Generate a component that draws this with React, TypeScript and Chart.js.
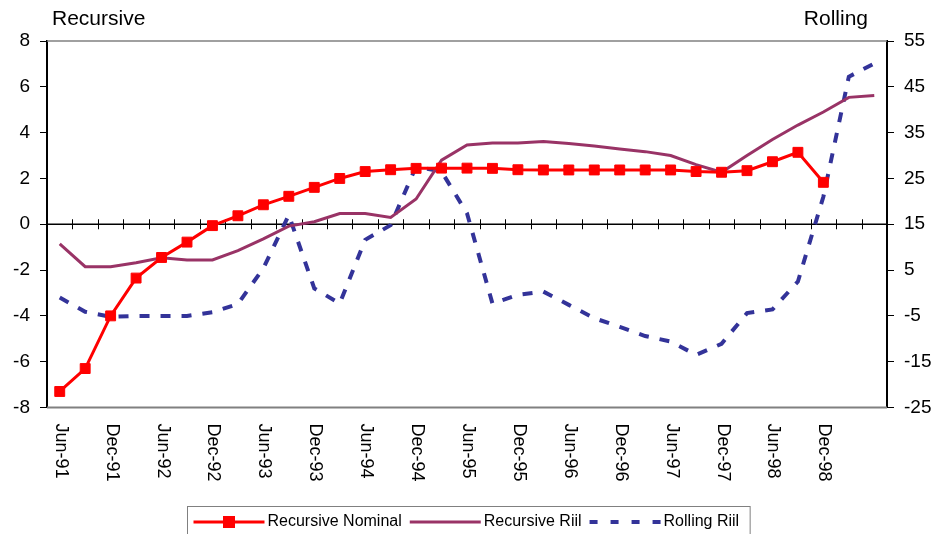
import React, { useEffect, useRef } from 'react';
import { Chart, registerables } from 'chart.js';

Chart.register(...registerables);

const categories = [
  'Jun-91', 'Sep-91', 'Dec-91', 'Mar-92', 'Jun-92', 'Sep-92', 'Dec-92', 'Mar-93',
  'Jun-93', 'Sep-93', 'Dec-93', 'Mar-94', 'Jun-94', 'Sep-94', 'Dec-94', 'Mar-95',
  'Jun-95', 'Sep-95', 'Dec-95', 'Mar-96', 'Jun-96', 'Sep-96', 'Dec-96', 'Mar-97',
  'Jun-97', 'Sep-97', 'Dec-97', 'Mar-98', 'Jun-98', 'Sep-98', 'Dec-98', 'Mar-99',
  'Jun-99',
];

const tickLabels = [
  'Jun-91', 'Dec-91', 'Jun-92', 'Dec-92', 'Jun-93', 'Dec-93', 'Jun-94', 'Dec-94',
  'Jun-95', 'Dec-95', 'Jun-96', 'Dec-96', 'Jun-97', 'Dec-97', 'Jun-98', 'Dec-98',
];

const recursiveNominal = [
  -7.3, -6.3, -4.0, -2.35, -1.45, -0.78, -0.06, 0.37, 0.85, 1.22, 1.61, 2.0, 2.3,
  2.38, 2.44, 2.45, 2.45, 2.44, 2.38, 2.37, 2.37, 2.37, 2.37, 2.37, 2.37, 2.3,
  2.27, 2.34, 2.73, 3.14, 1.83, null, null,
];

const recursiveRiil = [
  -0.86, -1.85, -1.85, -1.68, -1.46, -1.56, -1.56, -1.15, -0.64, -0.08, 0.11,
  0.47, 0.47, 0.3, 1.1, 2.8, 3.46, 3.55, 3.55, 3.61, 3.53, 3.42, 3.29, 3.17, 3.0,
  2.6, 2.27, 3.0, 3.7, 4.33, 4.9, 5.54, 5.62,
];

const rollingRiil = [
  -1.0, -4.1, -5.2, -5.0, -5.0, -5.0, -4.2, -2.4, 5.4, 17.0, 1.0, -2.3, 11.6,
  14.8, 27.6, 26.5, 17.4, -2.3, -0.4, 0.3, -2.6, -5.5, -7.4, -9.4, -10.6, -13.5,
  -11.1, -4.4, -3.6, 2.5, 21.0, 47.2, 50.1,
];

const leftTitle = 'Recursive';
const rightTitle = 'Rolling';
const seriesNames = ['Recursive Nominal', 'Recursive Riil', 'Rolling Riil'];

const RED = '#FF0000';
const PURPLE = '#993366';
const BLUE = '#333399';
const FONT = '"Liberation Sans", Arial, sans-serif';

const customPlugin = {
  id: 'customDecor',
  beforeDatasetsDraw(chart: any) {
    const { ctx, chartArea: ca, scales } = chart;
    const x = scales.x;
    const yL = scales.yL;
    ctx.save();
    ctx.strokeStyle = '#808080';
    ctx.lineWidth = 1.5;
    ctx.beginPath();
    ctx.moveTo(ca.left, ca.top);
    ctx.lineTo(ca.right, ca.top);
    ctx.stroke();
    ctx.lineWidth = 2;
    ctx.beginPath();
    ctx.moveTo(ca.left, ca.bottom);
    ctx.lineTo(ca.right, ca.bottom);
    ctx.stroke();
    const y0 = yL.getPixelForValue(0);
    ctx.strokeStyle = '#000';
    ctx.lineWidth = 1.5;
    ctx.beginPath();
    ctx.moveTo(ca.left, y0);
    ctx.lineTo(ca.right, y0);
    ctx.stroke();
    const half = (x.getPixelForValue(1) - x.getPixelForValue(0)) / 2;
    ctx.lineWidth = 1;
    for (let i = 1; i < categories.length; i++) {
      const px = Math.round(x.getPixelForValue(i) - half) + 0.5;
      ctx.beginPath();
      ctx.moveTo(px, y0 - 5);
      ctx.lineTo(px, y0 + 5);
      ctx.stroke();
    }
    ctx.restore();
  },
  afterDraw(chart: any) {
    const { ctx, chartArea: ca, scales, width } = chart;
    const x = scales.x;
    ctx.save();
    ctx.fillStyle = '#000';
    ctx.font = `21px ${FONT}`;
    ctx.textBaseline = 'alphabetic';
    ctx.textAlign = 'left';
    ctx.fillText(leftTitle, ca.left + 5, 25);
    ctx.textAlign = 'right';
    ctx.fillText(rightTitle, ca.right - 19, 25);

    ctx.font = `18px ${FONT}`;
    ctx.textAlign = 'left';
    ctx.textBaseline = 'middle';
    categories.forEach((c, i) => {
      if (!tickLabels.includes(c)) return;
      const px = x.getPixelForValue(i);
      ctx.save();
      ctx.translate(px + 1, ca.bottom + 16);
      ctx.rotate(Math.PI / 2);
      ctx.fillText(c, 0, 0);
      ctx.restore();
    });

    ctx.font = `16px ${FONT}`;
    const sample = 71;
    const gapText = 3;
    const gapItem = 8;
    const padL = 6;
    const padR = 11;
    const textWs = seriesNames.map((n) => ctx.measureText(n).width);
    let total = padL + padR;
    textWs.forEach((w, i) => {
      total += sample + gapText + w + (i < textWs.length - 1 ? gapItem : 0);
    });
    const boxL = Math.round(width / 2 - total / 2) + 0.5;
    const boxT = 506.5;
    ctx.strokeStyle = '#808080';
    ctx.lineWidth = 1;
    ctx.strokeRect(boxL, boxT, total, 40);
    const ly = 522;
    let cx = boxL + padL;
    const colors = [RED, PURPLE, BLUE];
    seriesNames.forEach((name, i) => {
      ctx.save();
      ctx.strokeStyle = colors[i];
      ctx.lineWidth = i === 2 ? 4 : 3;
      if (i === 2) ctx.setLineDash([8, 13]);
      ctx.beginPath();
      ctx.moveTo(cx, ly);
      ctx.lineTo(cx + sample, ly);
      ctx.stroke();
      if (i === 0) {
        ctx.fillStyle = RED;
        ctx.fillRect(cx + sample / 2 - 6, ly - 6, 12, 12);
      }
      ctx.restore();
      cx += sample + gapText;
      ctx.textAlign = 'left';
      ctx.textBaseline = 'middle';
      ctx.fillStyle = '#000';
      ctx.fillText(name, cx, ly);
      cx += textWs[i] + gapItem;
    });
    ctx.restore();
  },
};

export default function App() {
  const canvasRef = useRef<HTMLCanvasElement | null>(null);

  useEffect(() => {
    const canvas = canvasRef.current;
    if (!canvas) return;
    const chart = new Chart(canvas, {
      type: 'line',
      data: {
        labels: categories,
        datasets: [
          {
            label: seriesNames[0],
            data: recursiveNominal,
            yAxisID: 'yL',
            borderColor: RED,
            backgroundColor: RED,
            borderWidth: 3,
            pointStyle: 'rect',
            pointRadius: 7,
            pointBorderWidth: 1,
            pointBackgroundColor: RED,
            pointBorderColor: RED,
            tension: 0,
            order: 1,
          },
          {
            label: seriesNames[1],
            data: recursiveRiil,
            yAxisID: 'yL',
            borderColor: PURPLE,
            backgroundColor: PURPLE,
            borderWidth: 3,
            pointRadius: 0,
            tension: 0,
            order: 2,
          },
          {
            label: seriesNames[2],
            data: rollingRiil,
            yAxisID: 'yR',
            borderColor: BLUE,
            backgroundColor: BLUE,
            borderWidth: 4,
            borderDash: [10, 11],
            pointRadius: 0,
            tension: 0,
            order: 3,
          },
        ],
      },
      options: {
        animation: false,
        responsive: false,
        maintainAspectRatio: false,
        layout: { padding: { top: 41, bottom: 126.5, left: 0, right: 0 } },
        plugins: {
          legend: { display: false },
          title: { display: false },
          tooltip: { enabled: false },
        },
        scales: {
          x: {
            type: 'category',
            offset: true,
            display: false,
          },
          yL: {
            type: 'linear',
            position: 'left',
            min: -8,
            max: 8,
            afterFit: (s: any) => {
              s.width = 47;
            },
            ticks: {
              stepSize: 2,
              color: '#000',
              padding: 10,
              font: { family: FONT, size: 19 },
            },
            grid: {
              drawOnChartArea: false,
              drawTicks: true,
              tickLength: 7,
              color: '#000',
              lineWidth: 1,
            },
            border: { display: true, color: '#000', width: 2 },
          },
          yR: {
            type: 'linear',
            position: 'right',
            min: -25,
            max: 55,
            afterFit: (s: any) => {
              s.width = 50;
            },
            ticks: {
              stepSize: 10,
              color: '#000',
              padding: 10,
              font: { family: FONT, size: 19 },
            },
            grid: {
              drawOnChartArea: false,
              drawTicks: true,
              tickLength: 7,
              color: '#000',
              lineWidth: 1,
            },
            border: { display: true, color: '#000', width: 2 },
          },
        },
      },
      plugins: [customPlugin],
    });
    return () => chart.destroy();
  }, []);

  return (
    <div style={{ position: 'absolute', left: 0, top: 0, width: 937, height: 534, background: '#fff' }}>
      <canvas ref={canvasRef} width={937} height={534} />
    </div>
  );
}
